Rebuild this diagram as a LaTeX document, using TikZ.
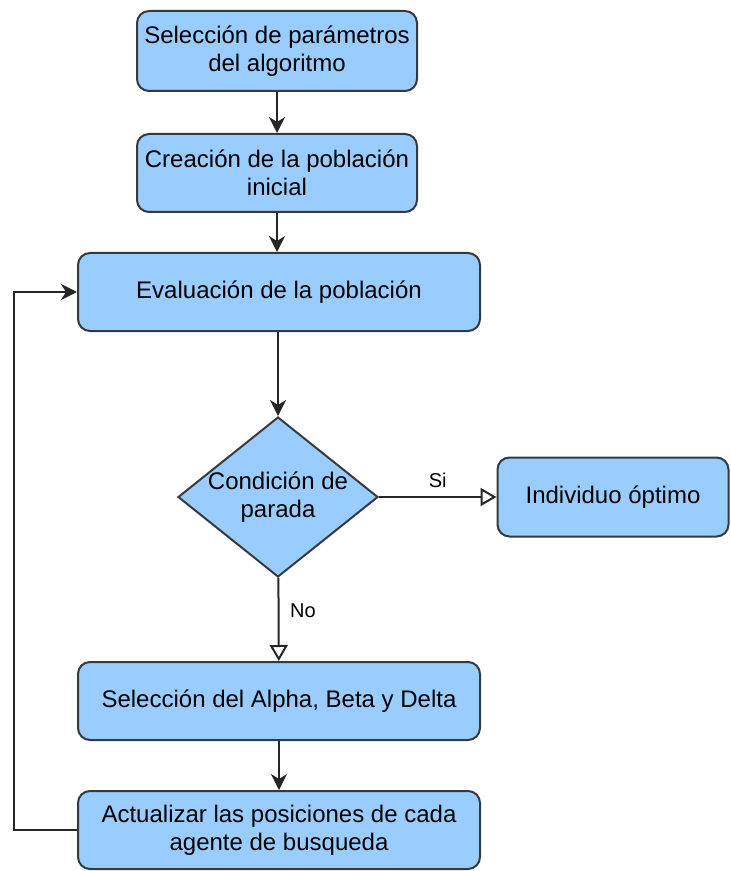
\documentclass[tikz,border=0pt]{standalone}
\usepackage{fontspec}
\setmainfont{Liberation Sans}
\usetikzlibrary{arrows.meta,shapes.geometric}
\definecolor{boxfill}{HTML}{99CCFF}
\definecolor{boxline}{HTML}{36393D}
\begin{document}
\begin{tikzpicture}[x=0.5pt,y=-0.5pt,
  every node/.style={font=\fontsize{12}{14}\selectfont},
  stepbox/.style={draw=boxline,fill=boxfill,line width=1pt,rounded corners=6pt,
    align=center,inner sep=2pt},
  decision/.style={draw=boxline,fill=boxfill,line width=1pt,diamond,
    minimum width=100pt,minimum height=80pt,inner sep=0pt},
  flow/.style={draw=black!85,line width=1pt,-{Stealth[length=8pt,width=8pt,inset=2.5pt]}},
  branch/.style={draw=black!85,line width=1pt,-{Triangle[open,length=8pt,width=9pt]}},
  tag/.style={font=\fontsize{10}{12}\selectfont}]
\useasboundingbox (0,0) rectangle (730,871);

\node[stepbox,minimum width=140pt,minimum height=40pt] (params) at (277,51)
  {Selección de parámetros\\del algoritmo};
\node[stepbox,minimum width=140pt,minimum height=39pt] (init) at (277,173)
  {Creación de la población\\inicial};
\node[stepbox,minimum width=201pt,minimum height=39pt] (eval) at (279,292)
  {Evaluación de la población};
\node[decision,label={[align=center,font=\fontsize{12}{14}\selectfont]center:Condición de\\parada}]
  (stop) at (278,497) {};
\node[stepbox,minimum width=115.5pt,minimum height=39.5pt] (best) at (613,497)
  {Individuo óptimo};
\node[stepbox,minimum width=201pt,minimum height=39pt] (leaders) at (279,701)
  {Selección del Alpha, Beta y Delta};
\node[stepbox,minimum width=201pt,minimum height=39pt] (update) at (279,830)
  {Actualizar las posiciones de cada\\agente de busqueda};

\coordinate (loop) at (14,830);

\draw[flow] (params) -- (init);
\draw[flow] (init) -- (eval.north -| init);
\draw[flow] (eval.south -| stop) -- (stop);
\draw[branch] (stop) -- node[tag,above=1pt,pos=0.5] {Si} (best);
\draw[branch] (stop) -- node[tag,right=2pt,pos=0.4] {No} (leaders);
\draw[flow] (leaders) -- (update);
\draw[flow] (update.west) -- (loop) |- (eval.west);
\end{tikzpicture}
\end{document}
